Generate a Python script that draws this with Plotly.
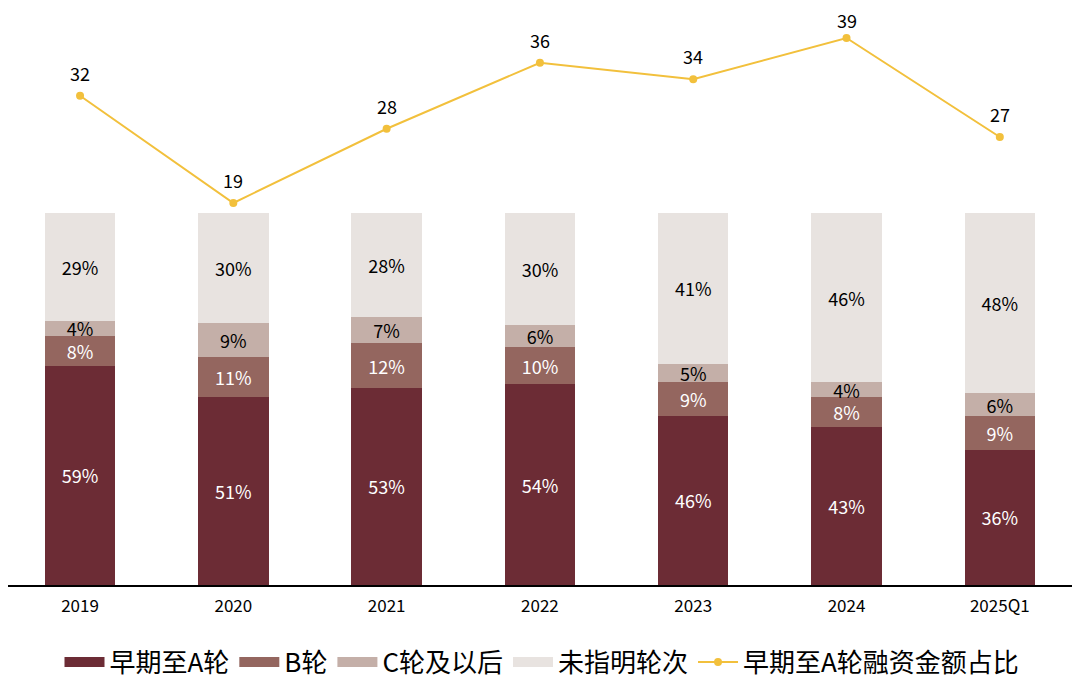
import plotly.graph_objects as go

# Data
years = ["2019", "2020", "2021", "2022", "2023", "2024", "2025Q1"]
early_a = [59, 51, 53, 54, 46, 43, 36]
round_b = [8, 11, 12, 10, 9, 8, 9]
round_c = [4, 9, 7, 6, 5, 4, 6]
unspecified = [29, 30, 28, 30, 41, 46, 48]
early_share = [32, 19, 28, 36, 34, 39, 27]

font = "Noto Sans CJK SC"
line_color = "#F2C03C"

fig = go.Figure()

bar_series = [
    ("早期至A轮", early_a, "#6C2C35", "white"),
    ("B轮", round_b, "#94665F", "white"),
    ("C轮及以后", round_c, "#C4AFA8", "black"),
    ("未指明轮次", unspecified, "#E8E3E0", "black"),
]
for name, vals, color, tcolor in bar_series:
    fig.add_trace(go.Bar(
        x=years, y=vals, name=name, showlegend=False,
        marker=dict(color=color, line=dict(width=0)),
        text=[f"{v}%" for v in vals],
        textposition="inside", insidetextanchor="middle", textangle=0,
        textfont=dict(family=font, size=18, color=tcolor),
        hoverinfo="skip",
    ))
    # legend proxy with a wide flat swatch like the original
    fig.add_trace(go.Scatter(
        x=[None], y=[None], name=name, mode="lines",
        line=dict(color=color, width=12),
    ))

fig.add_trace(go.Scatter(
    x=years, y=early_share, name="早期至A轮融资金额占比",
    mode="lines+markers",
    line=dict(color=line_color, width=2),
    marker=dict(color=line_color, size=8),
    yaxis="y2",
))

# value labels above the line points (category index, since "2019" would be read as a number)
top = max(early_share)
for i, v in enumerate(early_share):
    fig.add_annotation(
        x=i, y=v, xref="x", yref="y2", text=str(v), showarrow=False,
        yshift=18 if v == top else 23,  # keep the highest label inside the page
        font=dict(family=font, size=18, color="black"),
    )

fig.update_layout(
    width=1080, height=690,
    margin=dict(l=0, r=12, t=2, b=113),
    paper_bgcolor="white", plot_bgcolor="white",
    barmode="stack", barnorm="percent", bargap=0.54,
    uniformtext=dict(minsize=18, mode="show"),
    font=dict(family=font, color="black"),
    xaxis=dict(
        type="category", range=[-0.47, 6.497],
        showgrid=False, showline=True, linecolor="black", linewidth=1.5,
        ticks="", tickfont=dict(family=font, size=17, color="black"),
        ticklabelstandoff=5, fixedrange=True,
    ),
    yaxis=dict(domain=[0, 0.647], range=[0, 100], visible=False, showgrid=False),
    yaxis2=dict(domain=[0.647, 1], range=[17.79, 42.39], visible=False,
                showgrid=False, anchor="x"),
    legend=dict(
        orientation="h", x=0.5, xanchor="center", y=-0.134, yanchor="middle",
        font=dict(family=font, size=26, color="black"), traceorder="normal",
        itemwidth=40,
    ),
    showlegend=True,
)

fig.write_html("out.html")
